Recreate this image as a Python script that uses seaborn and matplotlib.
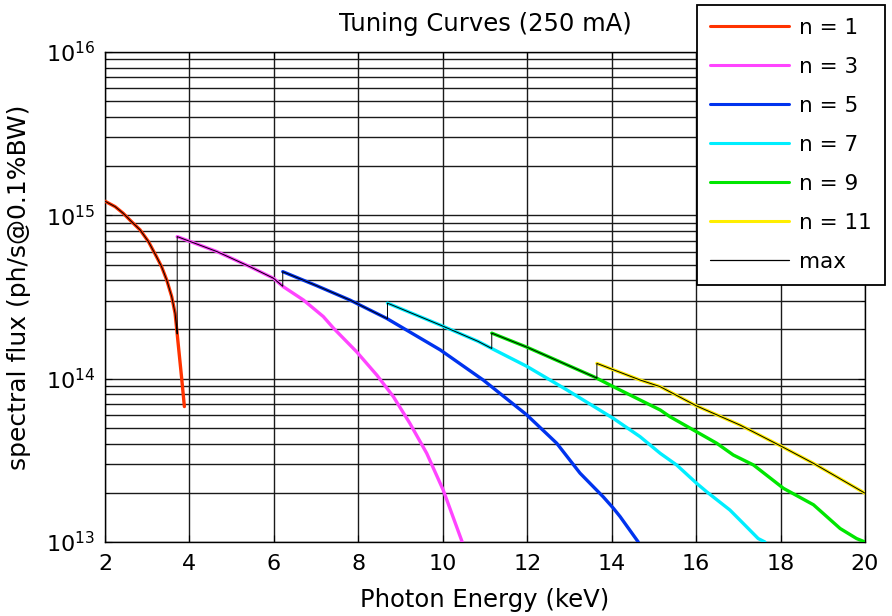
import numpy as np
import pandas as pd
import matplotlib
matplotlib.use("Agg")
import matplotlib.pyplot as plt
from matplotlib.ticker import NullFormatter, LogLocator
from matplotlib.lines import Line2D
import seaborn as sns

# ---------------- data ----------------
e_n1 = [2.00, 2.24, 2.43, 2.63, 2.83, 3.03, 3.22, 3.34, 3.46, 3.58, 3.66, 3.70, 3.74, 3.82, 3.88]
f_n1 = [1.22e15, 1.13e15, 1.03e15, 9.14e14, 8.15e14, 6.90e14, 5.58e14, 4.85e14, 4.03e14,
        3.18e14, 2.51e14, 1.99e14, 1.57e14, 9.8e13, 6.75e13]

e_n3 = [3.71, 4.65, 5.43, 5.99, 6.22, 6.70, 7.17, 7.41, 7.96, 8.44, 8.83, 9.22, 9.62, 10.01, 10.46]
f_n3 = [7.41e14, 6.00e14, 4.85e14, 4.12e14, 3.66e14, 3.03e14, 2.40e14, 2.04e14, 1.46e14,
        1.05e14, 7.76e13, 5.33e13, 3.49e13, 2.08e13, 1.00e13]

e_n5 = [6.21, 7.00, 7.80, 8.67, 9.94, 10.96, 11.99, 12.70, 13.25, 13.80, 14.04, 14.20, 14.63]
f_n5 = [4.52e14, 3.72e14, 3.03e14, 2.34e14, 1.50e14, 9.80e13, 6.00e13, 4.02e13, 2.64e13,
        1.89e13, 1.61e13, 1.43e13, 1.00e13]

e_n7 = [8.69, 9.94, 10.84, 11.16, 11.99, 12.94, 14.04, 14.67, 15.15, 15.54, 16.01, 16.25,
        16.80, 17.04, 17.47, 17.63]
f_n7 = [2.90e14, 2.13e14, 1.69e14, 1.53e14, 1.19e14, 8.53e13, 5.71e13, 4.42e13, 3.49e13,
        2.96e13, 2.29e13, 2.03e13, 1.57e13, 1.36e13, 1.05e13, 1.00e13]

e_n9 = [11.16, 11.99, 13.57, 14.04, 14.67, 15.15, 15.38, 16.01, 16.49, 16.88, 17.36, 18.07,
        18.78, 19.41, 19.80, 20.00]
f_n9 = [1.90e14, 1.56e14, 1.03e14, 8.93e13, 7.41e13, 6.43e13, 5.85e13, 4.73e13, 4.02e13,
        3.41e13, 2.96e13, 2.13e13, 1.69e13, 1.21e13, 1.05e13, 1.00e13]

e_n11 = [13.65, 14.67, 15.15, 16.01, 17.04, 18.03, 18.78, 20.00]
f_n11 = [1.24e14, 9.82e13, 8.93e13, 6.81e13, 5.20e13, 3.84e13, 3.03e13, 1.99e13]

labels = ["n = 1", "n = 3", "n = 5", "n = 7", "n = 9", "n = 11"]
colors = ["#ff3300", "#ff44ff", "#0033ee", "#00eeff", "#00e600", "#ffee00"]
x_ticks = [2, 4, 6, 8, 10, 12, 14, 16, 18, 20]

series_e = [e_n1, e_n3, e_n5, e_n7, e_n9, e_n11]
series_f = [f_n1, f_n3, f_n5, f_n7, f_n9, f_n11]

# long-form table for seaborn
frames = []
for lab, e, f in zip(labels, series_e, series_f):
    frames.append(pd.DataFrame({"E": e, "F": f, "harmonic": lab}))
df = pd.concat(frames, ignore_index=True)

# max envelope: each harmonic until the next one starts
max_e, max_f = [], []
for i, (e, f) in enumerate(zip(series_e, series_f)):
    e = np.asarray(e); f = np.asarray(f)
    nxt = series_e[i + 1][0] if i + 1 < len(series_e) else np.inf
    keep = e < nxt
    max_e.extend(e[keep]); max_f.extend(f[keep])
    if np.isfinite(nxt):
        max_e.append(nxt)
        max_f.append(10 ** np.interp(nxt, e, np.log10(f)))
df_max = pd.DataFrame({"E": max_e, "F": max_f})

# ---------------- style ----------------
sns.set_style("ticks")
plt.rcParams["font.family"] = ["DejaVu Sans"]
plt.rcParams["mathtext.fontset"] = "dejavusans"
plt.rcParams["text.color"] = "black"
plt.rcParams["axes.labelcolor"] = "black"
plt.rcParams["xtick.color"] = "black"
plt.rcParams["ytick.color"] = "black"
FS_TICK = 16
FS_LABEL = 17.5
FS_YLABEL = 18
FS_LEG = 15.5

fig = plt.figure(figsize=(8.92, 6.16), dpi=100)
ax = fig.add_axes([105 / 892, 1 - 542 / 616, 760 / 892, 490 / 616])

sns.lineplot(data=df, x="E", y="F", hue="harmonic", hue_order=labels,
             palette=dict(zip(labels, colors)), linewidth=2.4, estimator=None,
             sort=False, legend=False, ax=ax, zorder=3)
sns.lineplot(data=df_max, x="E", y="F", color="black", linewidth=0.7,
             estimator=None, sort=False, legend=False, ax=ax, zorder=4)

ax.set_yscale("log")
ax.set_xlim(2, 20)
ax.set_ylim(1e13, 1e16)
ax.set_xticks(x_ticks)
ax.set_xticklabels([str(t) for t in x_ticks])
ax.yaxis.set_major_locator(LogLocator(base=10, numticks=10))
ax.yaxis.set_minor_locator(LogLocator(base=10, subs=np.arange(2, 10), numticks=50))
ax.yaxis.set_minor_formatter(NullFormatter())

ax.grid(True, which="major", axis="both", color="#1a1a1a", linewidth=1.0)
ax.grid(True, which="minor", axis="y", color="#1a1a1a", linewidth=1.0)
ax.set_axisbelow(True)

for s in ax.spines.values():
    s.set_color("black")
    s.set_linewidth(1.0)
ax.tick_params(which="both", direction="in", top=True, right=True, labelsize=FS_TICK,
               colors="black")
ax.tick_params(which="major", length=5)
ax.tick_params(which="minor", length=3)
ax.tick_params(axis="x", pad=9)
ax.tick_params(axis="y", pad=7)

ax.set_xlabel("Photon Energy (keV)", fontsize=FS_LABEL, labelpad=10)
ax.set_ylabel("spectral flux (ph/s@0.1%BW)", fontsize=FS_YLABEL)
ax.yaxis.set_label_coords(-0.098, 0.52)
ax.set_title("Tuning Curves (250 mA)", fontsize=FS_LABEL, pad=15)

handles = [Line2D([0], [0], color=c, lw=2.2) for c in colors]
handles.append(Line2D([0], [0], color="black", lw=0.9))
leg = fig.legend(handles, labels + ["max"], loc="lower left",
                 bbox_to_anchor=(697 / 892, 1 - 285 / 616), borderaxespad=0,
                 fontsize=FS_LEG, frameon=True, fancybox=False, framealpha=1,
                 edgecolor="black", handlelength=3.65, handletextpad=0.47,
                 labelspacing=0.88, borderpad=0.62)
leg.get_frame().set_linewidth(1.3)

fig.savefig("out.png", dpi=100)
